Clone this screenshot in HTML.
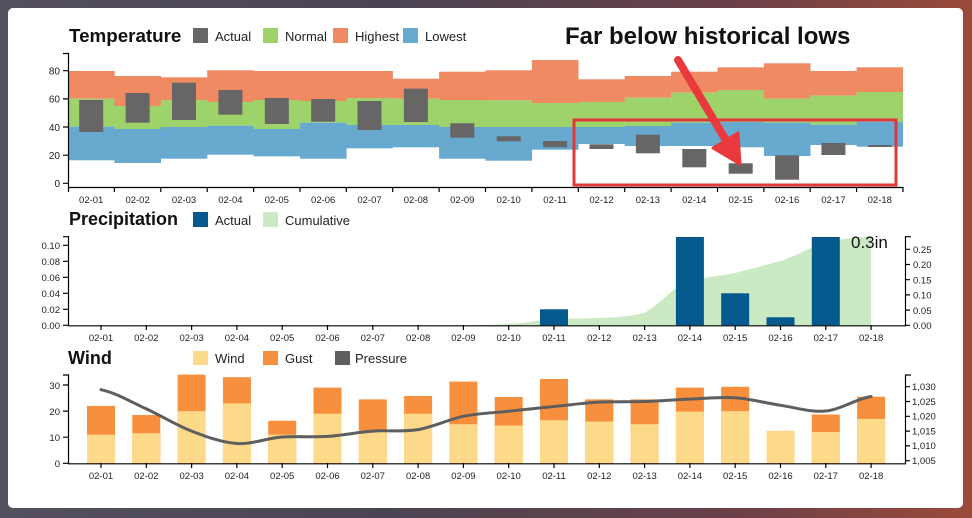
<!DOCTYPE html>
<html><head><meta charset="utf-8"><style>
html,body{margin:0;padding:0;width:972px;height:518px;overflow:hidden;background:linear-gradient(90deg,#55505f 0%,#4a4452 40%,#6a4048 75%,#9a4a3a 100%);}
svg{position:absolute;left:0;top:0;font-family:"Liberation Sans",sans-serif;}
</style></head><body>
<svg width="972" height="518" viewBox="0 0 972 518" xmlns="http://www.w3.org/2000/svg">
<rect x="8" y="8" width="955" height="500" rx="5" fill="#fff"/>
<text x="69" y="42" font-size="18.8" font-weight="bold" fill="#111">Temperature</text>
<rect x="193" y="28" width="15" height="15" fill="#676565"/><text x="215" y="41" font-size="13" fill="#222">Actual</text>
<rect x="263" y="28" width="15" height="15" fill="#9ed26a"/><text x="285" y="41" font-size="13" fill="#222">Normal</text>
<rect x="333" y="28" width="15" height="15" fill="#ef8a62"/><text x="355" y="41" font-size="13" fill="#222">Highest</text>
<rect x="403" y="28" width="15" height="15" fill="#67a9cf"/><text x="425" y="41" font-size="13" fill="#222">Lowest</text>
<text x="565" y="44" font-size="24" font-weight="bold" fill="#111">Far below historical lows</text>
<g fill="#ef8a62">
<rect x="68" y="71" width="46.6" height="27.7"/><rect x="114.4" y="76" width="46.6" height="30"/><rect x="160.8" y="77.3" width="46.6" height="22.7"/><rect x="207.2" y="70.3" width="46.6" height="31.7"/><rect x="253.6" y="71" width="46.6" height="29"/><rect x="300" y="71" width="46.6" height="30"/><rect x="346.3" y="71" width="46.6" height="27"/><rect x="392.7" y="78.7" width="46.6" height="20"/><rect x="439.1" y="71.7" width="46.6" height="28.3"/><rect x="485.5" y="70.3" width="46.6" height="30"/><rect x="531.9" y="60" width="46.6" height="43"/><rect x="578.3" y="79.3" width="46.6" height="22.7"/><rect x="624.7" y="76" width="46.6" height="21.7"/><rect x="671.1" y="71.7" width="46.6" height="21"/><rect x="717.5" y="67.3" width="46.6" height="22.7"/><rect x="763.9" y="63.3" width="46.6" height="35.4"/><rect x="810.2" y="71" width="46.6" height="24.7"/><rect x="856.6" y="67.3" width="46.4" height="24.7"/>
</g>
<g fill="#9ed26a">
<rect x="68" y="98.7" width="46.6" height="28"/><rect x="114.4" y="106" width="46.6" height="23"/><rect x="160.8" y="100" width="46.6" height="27"/><rect x="207.2" y="102" width="46.6" height="23.7"/><rect x="253.6" y="100" width="46.6" height="29"/><rect x="300" y="101" width="46.6" height="21.7"/><rect x="346.3" y="98" width="46.6" height="27"/><rect x="392.7" y="98.7" width="46.6" height="26.3"/><rect x="439.1" y="100" width="46.6" height="27"/><rect x="485.5" y="100.3" width="46.6" height="26.7"/><rect x="531.9" y="103" width="46.6" height="24"/><rect x="578.3" y="102" width="46.6" height="25"/><rect x="624.7" y="97.7" width="46.6" height="28.3"/><rect x="671.1" y="92.7" width="46.6" height="30"/><rect x="717.5" y="90" width="46.6" height="32"/><rect x="763.9" y="98.7" width="46.6" height="24"/><rect x="810.2" y="95.7" width="46.6" height="29"/><rect x="856.6" y="92" width="46.4" height="29.7"/>
</g>
<g fill="#67a9cf">
<rect x="68" y="126.7" width="46.6" height="33.6"/><rect x="114.4" y="129" width="46.6" height="34"/><rect x="160.8" y="127" width="46.6" height="31.7"/><rect x="207.2" y="125.7" width="46.6" height="29"/><rect x="253.6" y="129" width="46.6" height="27.3"/><rect x="300" y="122.7" width="46.6" height="36"/><rect x="346.3" y="125" width="46.6" height="23.3"/><rect x="392.7" y="125" width="46.6" height="22.3"/><rect x="439.1" y="127" width="46.6" height="31.7"/><rect x="485.5" y="127" width="46.6" height="33.7"/><rect x="531.9" y="127" width="46.6" height="22.7"/><rect x="578.3" y="127" width="46.6" height="17"/><rect x="624.7" y="126" width="46.6" height="20"/><rect x="671.1" y="122.7" width="46.6" height="23.3"/><rect x="717.5" y="122" width="46.6" height="25.3"/><rect x="763.9" y="122.7" width="46.6" height="33.3"/><rect x="810.2" y="124.7" width="46.6" height="20.3"/><rect x="856.6" y="121.7" width="46.4" height="25"/>
</g>
<g fill="#676565">
<rect x="79.2" y="100" width="24" height="32"/><rect x="125.6" y="93" width="24" height="29.7"/><rect x="172" y="82.7" width="24" height="37.3"/><rect x="218.4" y="90" width="24" height="24.7"/><rect x="264.8" y="98" width="24" height="26"/><rect x="311.2" y="99" width="24" height="22.7"/><rect x="357.5" y="101" width="24" height="29"/><rect x="403.9" y="88.7" width="24" height="33.3"/><rect x="450.3" y="123.3" width="24" height="14.4"/><rect x="496.7" y="136.3" width="24" height="5"/><rect x="543.1" y="141" width="24" height="6.3"/><rect x="589.5" y="144.3" width="24" height="4.7"/><rect x="635.9" y="134.7" width="24" height="18.6"/><rect x="682.3" y="149" width="24" height="18.3"/><rect x="728.7" y="163.3" width="24" height="10.4"/><rect x="775.1" y="155.3" width="24" height="24.4"/><rect x="821.4" y="143" width="24" height="12"/><rect x="867.8" y="145" width="24" height="2"/>
</g>
<g stroke="#000" stroke-width="1.2" fill="none">
<path d="M63,53.5H68.5V187.5H903"/>
<path d="M63,183.3H68M63,155.2H68M63,127H68M63,98.9H68M63,70.7H68"/>
<path d="M68.5,187V192M114.4,187V192M160.8,187V192M207.2,187V192M253.6,187V192M300,187V192M346.3,187V192M392.7,187V192M439.1,187V192M485.5,187V192M531.9,187V192M578.3,187V192M624.7,187V192M671.1,187V192M717.5,187V192M763.9,187V192M810.2,187V192M856.6,187V192M903,187V192"/>
</g>
<g font-size="10" fill="#222" text-anchor="end">
<text x="60" y="187">0</text><text x="60" y="159">20</text><text x="60" y="131">40</text><text x="60" y="102.5">60</text><text x="60" y="74.5">80</text>
</g>
<g font-size="9.5" fill="#222" text-anchor="middle">
<text x="91.2" y="203">02-01</text><text x="137.6" y="203">02-02</text><text x="184" y="203">02-03</text><text x="230.4" y="203">02-04</text><text x="276.8" y="203">02-05</text><text x="323.2" y="203">02-06</text><text x="369.5" y="203">02-07</text><text x="415.9" y="203">02-08</text><text x="462.3" y="203">02-09</text><text x="508.7" y="203">02-10</text><text x="555.1" y="203">02-11</text><text x="601.5" y="203">02-12</text><text x="647.9" y="203">02-13</text><text x="694.3" y="203">02-14</text><text x="740.7" y="203">02-15</text><text x="787.1" y="203">02-16</text><text x="833.4" y="203">02-17</text><text x="879.8" y="203">02-18</text>
</g>
<rect x="574" y="120" width="322" height="65" fill="none" stroke="#e0383b" stroke-width="3"/>
<line x1="678" y1="60" x2="727" y2="142" stroke="#e8393c" stroke-width="8" stroke-linecap="round"/>
<polygon points="740,164 713,148 738,133" fill="#e8393c" stroke="#e8393c" stroke-width="3" stroke-linejoin="round"/>

<text x="69" y="225" font-size="18" font-weight="bold" fill="#111">Precipitation</text>
<rect x="193" y="212" width="15" height="15" fill="#045a8d"/><text x="215" y="225" font-size="13" fill="#222">Actual</text>
<rect x="263" y="212" width="15" height="15" fill="#c9eac3"/><text x="285" y="225" font-size="13" fill="#222">Cumulative</text>
<path d="M463.4,325.3 C490,325 500,324.5 508.7,324 C530,323 540,319.5 554,319 C575,318.5 585,318.5 599.3,318 C620,317.5 630,316 644.6,313 C665,300 675,285 689.9,281 C710,276 720,276 735.2,273 C755,268 765,265 780.5,261 C800,255 810,246 825.8,243 C845,238 855,237 871.1,237 V325.3Z" fill="#c9eac3"/>
<g fill="#045a8d">
<rect x="540" y="309.3" width="28" height="16"/><rect x="675.9" y="237" width="28" height="88.3"/><rect x="721.2" y="293.3" width="28" height="32"/><rect x="766.5" y="317.3" width="28" height="8"/><rect x="811.8" y="237" width="28" height="88.3"/>
</g>
<text x="851" y="248" font-size="17" fill="#111">0.3in</text>
<g stroke="#000" stroke-width="1.2" fill="none">
<path d="M63,236.7H68.5V325.8H905.5V236.7H911"/>
<path d="M63,325.3H68M63,309.3H68M63,293.3H68M63,277.3H68M63,261.3H68M63,245.3H68"/>
<path d="M905,325.3H910M905,310.1H910M905,294.9H910M905,279.7H910M905,264.5H910M905,249.3H910"/>
<path d="M101,325V330M146.3,325V330M191.6,325V330M236.9,325V330M282.2,325V330M327.5,325V330M372.8,325V330M418.1,325V330M463.4,325V330M508.7,325V330M554,325V330M599.3,325V330M644.6,325V330M689.9,325V330M735.2,325V330M780.5,325V330M825.8,325V330M871.1,325V330"/>
</g>
<g font-size="9.5" fill="#222" text-anchor="end">
<text x="60" y="329">0.00</text><text x="60" y="313">0.02</text><text x="60" y="297">0.04</text><text x="60" y="281">0.06</text><text x="60" y="265">0.08</text><text x="60" y="249">0.10</text>
</g>
<g font-size="9.5" fill="#222">
<text x="913" y="329">0.00</text><text x="913" y="314">0.05</text><text x="913" y="298.5">0.10</text><text x="913" y="283.5">0.15</text><text x="913" y="268">0.20</text><text x="913" y="253">0.25</text>
</g>
<g font-size="9.5" fill="#222" text-anchor="middle">
<text x="101" y="341">02-01</text><text x="146.3" y="341">02-02</text><text x="191.6" y="341">02-03</text><text x="236.9" y="341">02-04</text><text x="282.2" y="341">02-05</text><text x="327.5" y="341">02-06</text><text x="372.8" y="341">02-07</text><text x="418.1" y="341">02-08</text><text x="463.4" y="341">02-09</text><text x="508.7" y="341">02-10</text><text x="554" y="341">02-11</text><text x="599.3" y="341">02-12</text><text x="644.6" y="341">02-13</text><text x="689.9" y="341">02-14</text><text x="735.2" y="341">02-15</text><text x="780.5" y="341">02-16</text><text x="825.8" y="341">02-17</text><text x="871.1" y="341">02-18</text>
</g>

<text x="68" y="364" font-size="18" font-weight="bold" fill="#111">Wind</text>
<rect x="193" y="351" width="15" height="14" fill="#fdd98a"/><text x="215" y="363" font-size="13" fill="#222">Wind</text>
<rect x="263" y="351" width="15" height="14" fill="#f88f3d"/><text x="285" y="363" font-size="13" fill="#222">Gust</text>
<rect x="335" y="351" width="15" height="14" fill="#5e5e5e"/><text x="355" y="363" font-size="13" fill="#222">Pressure</text>
<g fill="#f88f3d">
<rect x="87" y="405.9" width="28" height="57.4"/><rect x="132.3" y="415" width="28" height="48.3"/><rect x="177.6" y="374.6" width="28" height="88.7"/><rect x="222.9" y="377.2" width="28" height="86.1"/><rect x="268.2" y="420.8" width="28" height="42.5"/><rect x="313.5" y="387.6" width="28" height="75.7"/><rect x="358.8" y="399.4" width="28" height="63.9"/><rect x="404.1" y="396" width="28" height="67.3"/><rect x="449.4" y="381.6" width="28" height="81.7"/><rect x="494.7" y="397" width="28" height="66.3"/><rect x="540" y="379" width="28" height="84.3"/><rect x="585.3" y="399.4" width="28" height="63.9"/><rect x="630.6" y="399.4" width="28" height="63.9"/><rect x="675.9" y="387.6" width="28" height="75.7"/><rect x="721.2" y="386.8" width="28" height="76.5"/><rect x="811.8" y="414.5" width="28" height="48.8"/><rect x="857.1" y="396.7" width="28" height="66.6"/>
</g>
<g fill="#fdd98a">
<rect x="87" y="434.6" width="28" height="28.7"/><rect x="132.3" y="433.3" width="28" height="30"/><rect x="177.6" y="411.1" width="28" height="52.2"/><rect x="222.9" y="403.3" width="28" height="60"/><rect x="268.2" y="434.6" width="28" height="28.7"/><rect x="313.5" y="413.7" width="28" height="49.6"/><rect x="358.8" y="430.7" width="28" height="32.6"/><rect x="404.1" y="413.7" width="28" height="49.6"/><rect x="449.4" y="424.2" width="28" height="39.1"/><rect x="494.7" y="425.5" width="28" height="37.8"/><rect x="540" y="420.2" width="28" height="43.1"/><rect x="585.3" y="421.5" width="28" height="41.8"/><rect x="630.6" y="424.2" width="28" height="39.1"/><rect x="675.9" y="411.6" width="28" height="51.7"/><rect x="721.2" y="411.1" width="28" height="52.2"/><rect x="766.5" y="430.7" width="28" height="32.6"/><rect x="811.8" y="432" width="28" height="31.3"/><rect x="857.1" y="418.9" width="28" height="44.4"/>
</g>
<path d="M101,389.7 C116.1,392.9 131.2,402 146.3,408.9 C161.4,415.8 176.5,425.3 191.6,431.1 C206.7,436.9 221.8,442.5 236.9,443.5 C252,444.5 267.1,438 282.2,437 C297.3,436 312.4,437.4 327.5,436.4 C342.6,435.4 357.7,432.2 372.8,431.1 C387.9,430 403,432.1 418.1,429.6 C433.2,427.1 448.3,419.4 463.4,416.3 C478.5,413.2 493.6,412.9 508.7,411.3 C523.8,409.7 538.9,408 554,406.5 C569.1,405 584.2,402.9 599.3,402.1 C614.4,401.3 629.5,402 644.6,401.5 C659.7,401 674.8,399.7 689.9,399.1 C705,398.5 720.1,396.7 735.2,397.7 C750.3,398.7 765.4,403.1 780.5,405.3 C795.6,407.5 810.7,412.5 825.8,411 C840.9,409.5 856,398.9 871.1,396.5" fill="none" stroke="#5e5e5e" stroke-width="3" stroke-linecap="round"/>
<g stroke="#000" stroke-width="1.2" fill="none">
<path d="M63,375H68.5V463.8H905.5V375H911"/>
<path d="M63,463.3H68M63,437.2H68M63,411.1H68M63,385H68"/>
<path d="M905,460.7H910M905,445.9H910M905,431.1H910M905,416.3H910M905,401.5H910M905,386.7H910"/>
<path d="M101,463V468M146.3,463V468M191.6,463V468M236.9,463V468M282.2,463V468M327.5,463V468M372.8,463V468M418.1,463V468M463.4,463V468M508.7,463V468M554,463V468M599.3,463V468M644.6,463V468M689.9,463V468M735.2,463V468M780.5,463V468M825.8,463V468M871.1,463V468"/>
</g>
<g font-size="9.5" fill="#222" text-anchor="end">
<text x="60" y="467">0</text><text x="60" y="441">10</text><text x="60" y="415">20</text><text x="60" y="389">30</text>
</g>
<g font-size="9.5" fill="#222">
<text x="912" y="464">1,005</text><text x="912" y="449">1,010</text><text x="912" y="434.5">1,015</text><text x="912" y="419.5">1,020</text><text x="912" y="405">1,025</text><text x="912" y="390">1,030</text>
</g>
<g font-size="9.5" fill="#222" text-anchor="middle">
<text x="101" y="479">02-01</text><text x="146.3" y="479">02-02</text><text x="191.6" y="479">02-03</text><text x="236.9" y="479">02-04</text><text x="282.2" y="479">02-05</text><text x="327.5" y="479">02-06</text><text x="372.8" y="479">02-07</text><text x="418.1" y="479">02-08</text><text x="463.4" y="479">02-09</text><text x="508.7" y="479">02-10</text><text x="554" y="479">02-11</text><text x="599.3" y="479">02-12</text><text x="644.6" y="479">02-13</text><text x="689.9" y="479">02-14</text><text x="735.2" y="479">02-15</text><text x="780.5" y="479">02-16</text><text x="825.8" y="479">02-17</text><text x="871.1" y="479">02-18</text>
</g>
</svg>
</body></html>
